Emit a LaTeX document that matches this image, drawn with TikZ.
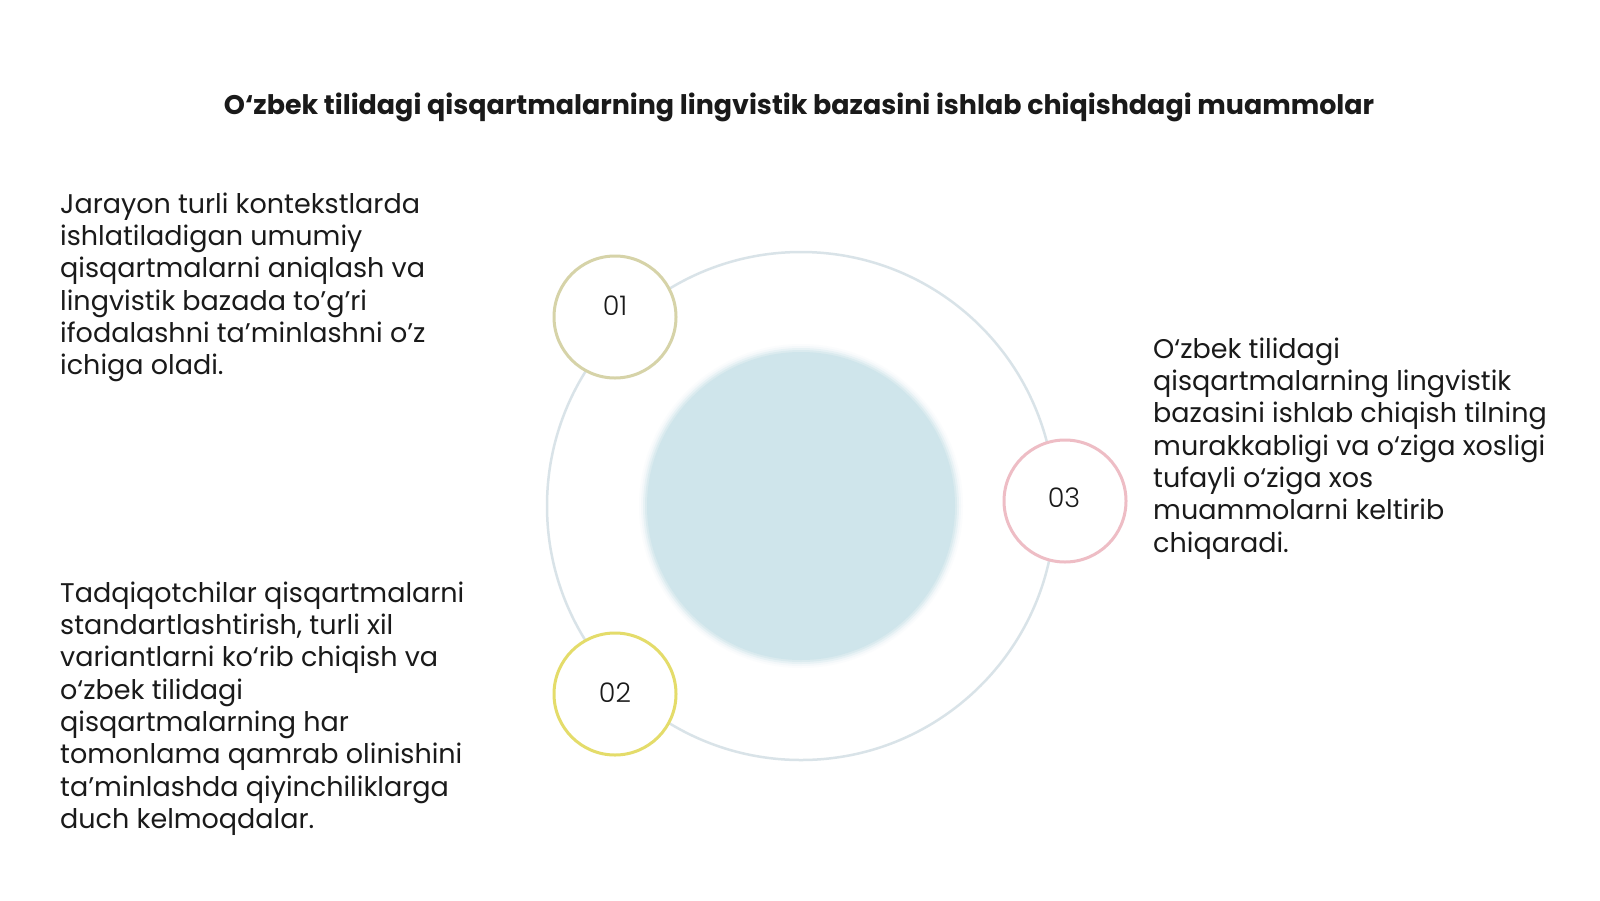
\documentclass[tikz,border=0pt]{standalone}
\usepackage{fontspec}
\setmainfont{Poppins}
\newfontfamily\numfont{Poppins}[UprightFont=* Light]
\definecolor{ringc}{RGB}{217,227,232}
\definecolor{corec}{RGB}{207,229,235}
\definecolor{c1}{RGB}{214,211,168}
\definecolor{c2}{RGB}{228,220,106}
\definecolor{c3}{RGB}{238,189,197}
\definecolor{txt}{RGB}{26,26,26}
\begin{document}
\begin{tikzpicture}[x=1pt,y=-1pt,
  body/.style={anchor=north west, inner sep=0pt, align=left, text=txt,
    font=\fontsize{27}{32.3}\selectfont},
  badge/.style={circle, draw=#1, line width=3pt, fill=white, minimum size=122pt, inner sep=0pt},
  num/.style={anchor=base, inner sep=0pt, text=txt, font=\numfont\fontsize{27}{30}\selectfont}
]
\useasboundingbox[fill=white] (0,0) rectangle (1600,900);

\node[anchor=base, inner sep=0pt, text=txt, font=\bfseries\fontsize{26.9}{30}\selectfont] (title) at (799,114)
  {O‘zbek tilidagi qisqartmalarning lingvistik bazasini ishlab chiqishdagi muammolar};

\node[circle, draw=ringc, line width=2.5pt, minimum size=508pt, inner sep=0pt] (ring) at (801,506) {};
\foreach \r/\o in {162/0.08,160/0.15,158/0.3,156/0.5}
  \fill[corec, opacity=\o] (801,506) circle (\r);
\node[circle, fill=corec, minimum size=308pt, inner sep=0pt] (core) at (801,506) {};

\node[badge=c1] (b1) at (615,317) {};
\node[badge=c2] (b2) at (615,694) {};
\node[badge=c3] (b3) at (1065,501) {};
\node[num] (n1) at (615,315) {01};
\node[num] (n2) at (615,702) {02};
\node[num] (n3) at (1064,507) {03};

\node[body] (t1) at (60,189) {\rule{0pt}{24pt}Jarayon turli kontekstlarda\\
ishlatiladigan umumiy\\
qisqartmalarni aniqlash va\\
lingvistik bazada to'g'ri\\
ifodalashni ta'minlashni o'z\\
ichiga oladi.};

\node[body] (t2) at (60,578) {\rule{0pt}{24pt}Tadqiqotchilar qisqartmalarni\\
standartlashtirish, turli xil\\
variantlarni ko‘rib chiqish va\\
o‘zbek tilidagi\\
qisqartmalarning har\\
tomonlama qamrab olinishini\\
ta’minlashda qiyinchiliklarga\\
duch kelmoqdalar.};

\node[body] (t3) at (1153,334) {\rule{0pt}{24pt}O‘zbek tilidagi\\
qisqartmalarning lingvistik\\
bazasini ishlab chiqish tilning\\
murakkabligi va o‘ziga xosligi\\
tufayli o‘ziga xos\\
muammolarni keltirib\\
chiqaradi.};
\end{tikzpicture}
\end{document}
